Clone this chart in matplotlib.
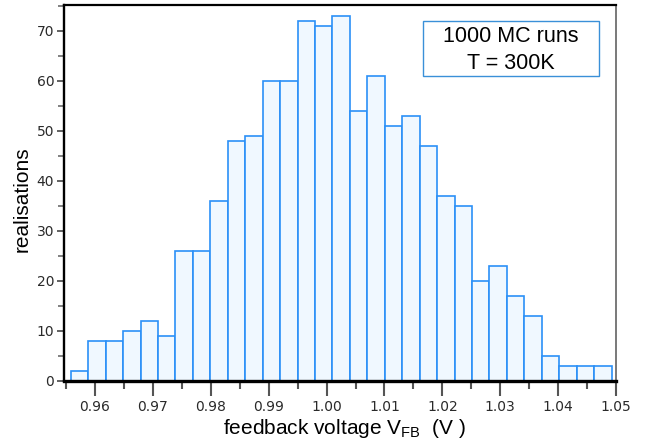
import numpy as np
import matplotlib
matplotlib.use("Agg")
import matplotlib.pyplot as plt
from matplotlib.patches import Rectangle
from matplotlib.ticker import MultipleLocator

# ---- data ----
counts = [2, 8, 8, 10, 12, 9, 26, 26, 36, 48, 49, 60, 60, 72, 71, 73,
          54, 61, 51, 53, 47, 37, 35, 20, 23, 17, 13, 5, 3, 3, 3]
bin_start = 0.9558
bin_width = 0.003014
x_ticks = [0.96, 0.97, 0.98, 0.99, 1.00, 1.01, 1.02, 1.03, 1.04, 1.05]
x_tick_labels = ["0.96", "0.97", "0.98", "0.99", "1.00", "1.01", "1.02", "1.03", "1.04", "1.05"]
y_ticks = [0, 10, 20, 30, 40, 50, 60, 70]
legend_lines = ["1000 MC runs", "T = 300K"]
x_label = "feedback voltage V$_{FB}$  (V )"
y_label = "realisations"

plt.rcParams['font.family'] = ['Liberation Sans', 'DejaVu Sans']
plt.rcParams['mathtext.default'] = 'regular'

W, H = 649, 445
fig = plt.figure(figsize=(W / 100, H / 100), dpi=100)
ax = fig.add_axes([64 / W, 1 - 381 / H, (616 - 64) / W, (381 - 5) / H])

edges = bin_start + bin_width * np.arange(len(counts) + 1)
ax.bar(edges[:-1], counts, width=bin_width, align='edge',
       color='#f0f8ff', edgecolor='#2b90f7', linewidth=1.2, zorder=2)

ax.set_xlim(0.95464, 1.05)
ax.set_ylim(0, 75.1)

ax.set_xticks(x_ticks)
ax.set_xticklabels(x_tick_labels)
ax.set_yticks(y_ticks)
ax.xaxis.set_minor_locator(MultipleLocator(0.005))
ax.yaxis.set_minor_locator(MultipleLocator(5))

for lab in ax.get_xticklabels() + ax.get_yticklabels():
    lab.set_fontfamily('DejaVu Sans')
    lab.set_fontsize(10)
    lab.set_color('#2a2a2a')

ax.tick_params(axis='x', which='major', direction='out', length=11, width=1.5,
               color='#555555', pad=3)
ax.tick_params(axis='x', which='minor', direction='out', length=6, width=1.5,
               color='#555555')
ax.tick_params(axis='y', which='major', direction='out', length=5, width=1.3,
               color='#555555', pad=2)
ax.tick_params(axis='y', which='minor', direction='out', length=4, width=1.3,
               color='#777777')

ax.spines['left'].set_linewidth(1.7)
ax.spines['left'].set_color('black')
ax.spines['top'].set_linewidth(1.6)
ax.spines['top'].set_color('black')
ax.spines['bottom'].set_linewidth(2.4)
ax.spines['bottom'].set_color('black')
ax.spines['bottom'].set_zorder(3)
ax.spines['right'].set_linewidth(1.1)
ax.spines['right'].set_color('#555555')

# axis labels
fig.text(344 / W, 1 - 434 / H, x_label, ha='center', va='baseline',
         fontsize=15, color='black')
fig.text(22 / W, 1 - 199 / H, y_label, ha='center', va='center',
         rotation=90, fontsize=15, color='black')

# annotation box
box = Rectangle((422.7 / W, 1 - 76 / H), (599.3 - 422.7) / W, (76 - 21) / H,
                transform=fig.transFigure, fill=True, facecolor='white',
                edgecolor='#3a90d8', linewidth=1.0, zorder=5)
fig.add_artist(box)
fig.text(511 / W, 1 - 42.3 / H, legend_lines[0], ha='center', va='baseline',
         fontsize=15.5, color='black', zorder=6)
fig.text(511 / W, 1 - 69 / H, legend_lines[1], ha='center', va='baseline',
         fontsize=15.5, color='black', zorder=6)

fig.savefig('out.png', dpi=100)
